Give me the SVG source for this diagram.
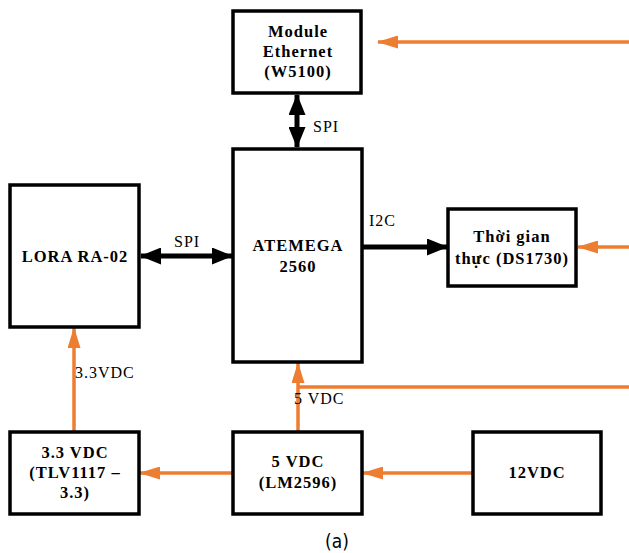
<svg xmlns="http://www.w3.org/2000/svg" width="629" height="553" viewBox="0 0 629 553">
<style>
.box{fill:#fff;stroke:#000;stroke-width:3.5}
text{font-family:'Liberation Serif','Times New Roman',Tinos,'DejaVu Serif',serif}
.t{font-weight:bold;font-size:16.5px;letter-spacing:1px;text-anchor:middle;fill:#000}
.l{font-size:16px;letter-spacing:1px;fill:#000}
.or{stroke:#ED7D31;stroke-width:3.5;fill:none}
.bk{stroke:#000;stroke-width:5;fill:none}
</style>
<defs>
<marker id="ao" markerUnits="userSpaceOnUse" markerWidth="21" markerHeight="13" refX="20" refY="6.5" orient="auto"><path d="M0,0 L21,6.5 L0,13 z" fill="#ED7D31"/></marker>
<marker id="ab" markerUnits="userSpaceOnUse" markerWidth="21" markerHeight="17" refX="20" refY="8.5" orient="auto-start-reverse"><path d="M0,0 L21,8.5 L0,17 z" fill="#000"/></marker>
</defs>
<rect width="629" height="553" fill="#fff"/>
<g id="connectors">
<line class="bk" x1="297" y1="95" x2="297" y2="147" marker-start="url(#ab)" marker-end="url(#ab)"/>
<line class="bk" x1="141" y1="256" x2="232" y2="256" marker-start="url(#ab)" marker-end="url(#ab)"/>
<line class="bk" x1="363" y1="247" x2="447" y2="247" marker-end="url(#ab)"/>
<line class="or" x1="629" y1="42" x2="378" y2="42" marker-end="url(#ao)"/>
<line class="or" x1="629" y1="247" x2="578" y2="247" marker-end="url(#ao)"/>
<line class="or" x1="74" y1="432" x2="74" y2="328" marker-end="url(#ao)"/>
<line class="or" x1="298" y1="432" x2="298" y2="363" marker-end="url(#ao)"/>
<line class="or" x1="298" y1="387" x2="629" y2="387"/>
<line class="or" x1="233" y1="473" x2="140" y2="473" marker-end="url(#ao)"/>
<line class="or" x1="473" y1="473" x2="363" y2="473" marker-end="url(#ao)"/>
<text class="l" x="313" y="132">SPI</text>
<text class="l" x="174" y="247">SPI</text>
<text class="l" x="369" y="226">I2C</text>
<text class="l" x="75" y="378">3.3VDC</text>
<text class="l" x="294" y="404">5 VDC</text>
</g>
<g id="ethernet">
<rect class="box" x="233" y="11" width="128" height="82"/>
<text class="t" x="298" y="37">Module</text>
<text class="t" x="298" y="57">Ethernet</text>
<text class="t" x="298" y="77">(W5100)</text>
</g>
<g id="atmega">
<rect class="box" x="233" y="149" width="129" height="213"/>
<text class="t" x="298" y="251">ATEMEGA</text>
<text class="t" x="298" y="272">2560</text>
</g>
<g id="lora">
<rect class="box" x="10" y="185" width="129" height="142"/>
<text class="t" x="75" y="262">LORA RA-02</text>
</g>
<g id="rtc">
<rect class="box" x="448" y="209" width="128" height="77"/>
<text class="t" x="512" y="242">Thời gian</text>
<text class="t" x="512" y="264">thực (DS1730)</text>
</g>
<g id="reg33">
<rect class="box" x="10" y="432" width="129" height="82"/>
<text class="t" x="75" y="458">3.3 VDC</text>
<text class="t" x="75" y="478">(TLV1117 –</text>
<text class="t" x="75" y="498">3.3)</text>
</g>
<g id="reg5">
<rect class="box" x="233" y="432" width="129" height="82"/>
<text class="t" x="298" y="467">5 VDC</text>
<text class="t" x="298" y="488">(LM2596)</text>
</g>
<g id="v12">
<rect class="box" x="473" y="432" width="128" height="82"/>
<text class="t" x="537" y="478">12VDC</text>
</g>
<text x="337" y="548" style="font-family:'DejaVu Sans Condensed','Liberation Sans Narrow','Liberation Sans',sans-serif" font-stretch="condensed" font-size="19" text-anchor="middle" fill="#000">(a)</text>
</svg>
